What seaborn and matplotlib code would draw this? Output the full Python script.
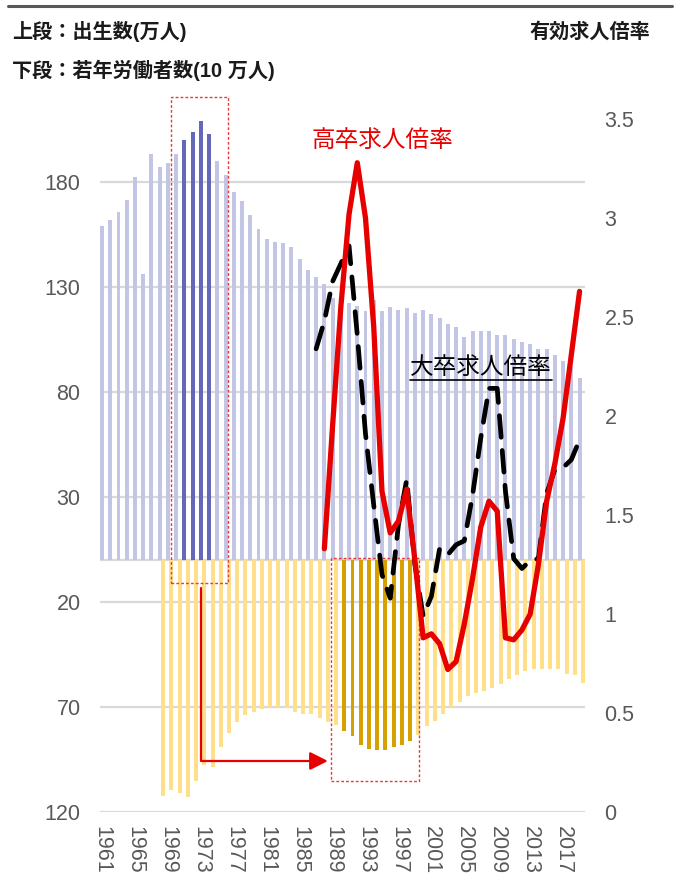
import matplotlib
matplotlib.use("Agg")
import matplotlib.pyplot as plt
from matplotlib.patches import Rectangle, FancyArrowPatch
from matplotlib.path import Path
from matplotlib.lines import Line2D
import pandas as pd
import seaborn as sns

# ---- data -------------------------------------------------------------
years = list(range(1961, 2020))
births = [158.9, 161.9, 166.0, 171.7, 182.4, 136.1, 193.6, 187.2, 189.0, 193.4,
          200.1, 203.9, 209.2, 203.0, 190.1, 183.3, 175.5, 170.9, 164.3, 157.7,
          152.9, 151.5, 150.9, 149.0, 143.2, 138.3, 134.7, 131.4, 124.7, 122.2,
          122.3, 120.9, 118.8, 123.8, 118.7, 120.7, 119.2, 120.3, 117.8, 119.1,
          117.1, 115.4, 112.4, 111.1, 106.3, 109.3, 109.0, 109.1, 107.0, 107.1,
          105.1, 103.7, 103.0, 100.4, 100.6, 97.7, 94.6, 91.8, 86.5]

worker_years = list(range(1968, 2020))
young_workers = [112.4, 109.5, 111.1, 113.0, 105.1, 97.6, 98.4, 89.2, 82.2, 77.0,
                 73.8, 72.2, 71.1, 70.0, 70.0, 70.5, 72.5, 73.5, 73.5, 75.4,
                 77.0, 78.6, 81.3, 83.8, 88.1, 89.8, 90.3, 90.3, 89.0, 88.0,
                 86.0, 83.3, 78.9, 76.5, 73.3, 69.8, 67.5, 64.8, 63.5, 62.4,
                 61.0, 59.2, 56.5, 54.6, 52.7, 51.7, 51.9, 51.9, 51.9, 54.3,
                 54.6, 58.4]

hs_years = list(range(1988, 2020))
hs_ratio = [1.33, 1.95, 2.55, 3.02, 3.28, 3.00, 2.45, 1.62, 1.41, 1.47,
            1.63, 1.27, 0.88, 0.90, 0.85, 0.72, 0.76, 0.95, 1.18, 1.44,
            1.57, 1.52, 0.88, 0.87, 0.92, 1.00, 1.25, 1.57, 1.76, 1.99,
            2.31, 2.63]

univ_years = list(range(1987, 2020))
univ_ratio = [2.34, 2.48, 2.68, 2.77, 2.86, 2.41, 1.91, 1.55, 1.20, 1.08,
              1.45, 1.68, 1.25, 0.99, 1.09, 1.33, 1.30, 1.35, 1.37, 1.60,
              1.89, 2.14, 2.14, 1.62, 1.28, 1.23, 1.27, 1.28, 1.61, 1.73,
              1.74, 1.78, 1.88]

left_ticks = [180, 130, 80, 30, -20, -70, -120]
right_ticks = [0, 0.5, 1, 1.5, 2, 2.5, 3, 3.5]
xtick_years = list(range(1961, 2018, 4))

boom_births = (1971, 1974)
boom_workers = (1990, 1998)

# ---- style ------------------------------------------------------------
sns.set_style("white")
plt.rcParams["font.family"] = ["Liberation Sans", "Noto Sans CJK JP", "DejaVu Sans"]

LAV, LAV_DARK = "#c3c5e5", "#6567b8"
YEL, YEL_DARK = "#ffdf8a", "#d6a100"
RED = "#e60000"
TICK_C = "#595959"
GRID_C = "#d9d9d9"

fig = plt.figure(figsize=(6.8, 8.93), dpi=100)
ax = fig.add_axes([100 / 680, 81 / 893, 485 / 680, 718 / 893])

Y_TOP = 222
ax.set_axisbelow(True)
ax.yaxis.grid(True, color=GRID_C, lw=1.6)
ax.axhline(0, color=GRID_C, lw=1.6, zorder=0)

# upper: births
df_up = pd.DataFrame({"year": years, "births": births})
df_up["peak"] = df_up["year"].between(*boom_births)
sns.barplot(data=df_up, x="year", y="births", hue="peak",
            palette={False: LAV, True: LAV_DARK}, native_scale=True,
            dodge=False, width=0.48, errorbar=None, legend=False,
            saturation=1, linewidth=0, ax=ax)

# lower: young workers, drawn downward and set half a slot to the right
df_low = pd.DataFrame({"year": worker_years, "workers": young_workers})
df_low["pos"] = df_low["year"] + 0.42
df_low["neg"] = -df_low["workers"]
df_low["peak"] = df_low["year"].between(*boom_workers)
sns.barplot(data=df_low, x="pos", y="neg", hue="peak",
            palette={False: YEL, True: YEL_DARK}, native_scale=True,
            dodge=False, width=0.48, errorbar=None, legend=False,
            saturation=1, linewidth=0, ax=ax)

ax.set_ylim(-120, Y_TOP)
ax.set_xlim(1960.75, 2019.66)
ax.set_yticks(left_ticks)
ax.set_yticklabels([str(abs(v)) for v in left_ticks])
ax.set_xticks(xtick_years)
ax.set_xticklabels([str(y) for y in xtick_years], rotation=-90)
ax.tick_params(axis="both", length=0, labelsize=15.5, labelcolor=TICK_C)
ax.tick_params(axis="y", pad=14)
ax.tick_params(axis="x", pad=10)
ax.set_xlabel("")
ax.set_ylabel("")
for s in ax.spines.values():
    s.set_visible(False)

# highlight boxes and arrow
box_kw = dict(fill=False, edgecolor="#e8383d", lw=1.0,
              linestyle=(0, (2, 1.5)), clip_on=False, zorder=5)
ax.add_patch(Rectangle((1969.41, -11), 1976.24 - 1969.41, 220.5 + 11, **box_kw))
ax.add_patch(Rectangle((1988.8, -105), 1999.45 - 1988.8, 105.8, **box_kw))

arrow_path = Path([(1973.0, -13.3), (1973.0, -95.7), (1988.44, -95.7)])
ax.add_patch(FancyArrowPatch(path=arrow_path,
                             arrowstyle="-|>,head_length=1.1,head_width=0.55",
                             mutation_scale=10, color=RED, lw=1.6,
                             clip_on=False, zorder=6))

# job-opening ratios on the secondary axis
ax2 = ax.twinx()
sns.lineplot(x=univ_years, y=univ_ratio, ax=ax2, color="black", lw=3.4)
ln_univ = ax2.lines[-1]
ln_univ.set_linestyle((0, (4.6, 2.8)))
ln_univ.set_dash_capstyle("round")
sns.lineplot(x=hs_years, y=hs_ratio, ax=ax2, color=RED, lw=3.8)
ln_hs = ax2.lines[-1]
ln_hs.set_solid_joinstyle("round")
ln_hs.set_solid_capstyle("round")

ax2.set_ylim(0, 3.5 * (Y_TOP + 120) / 330)
ax2.set_yticks(right_ticks)
ax2.set_yticklabels([f"{v:g}" for v in right_ticks])
ax2.tick_params(axis="y", length=0, labelsize=15.5, labelcolor=TICK_C, pad=14)
ax2.set_xlim(1960.75, 2019.66)
ax2.set_xlabel("")
ax2.set_ylabel("")
for s in ax2.spines.values():
    s.set_visible(False)

# headers
fig.add_artist(Line2D([8 / 680, 672 / 680], [1 - 6 / 893, 1 - 6 / 893],
                      color="#595959", lw=2.2))
head_kw = dict(fontsize=14.5, color="#1a1a1a", fontweight="bold", va="center")
fig.text(12 / 680, 1 - 32 / 893, "上段：出生数(万人)", ha="left", **head_kw)
fig.text(12 / 680, 1 - 70 / 893, "下段：若年労働者数(10 万人)", ha="left", **head_kw)
fig.text(650 / 680, 1 - 32 / 893, "有効求人倍率", ha="right", **head_kw)

# series labels
fig.text(382 / 680, 1 - 141 / 893, "高卒求人倍率", color=RED, fontsize=17,
         ha="center", va="center")
t_univ = fig.text(481 / 680, 1 - 368 / 893, "大卒求人倍率", color="black",
                  fontsize=17, ha="center", va="center")
fig.canvas.draw()
bb = t_univ.get_window_extent().transformed(fig.transFigure.inverted())
y_ul = 1 - 379.5 / 893
fig.add_artist(Line2D([bb.x0, bb.x1], [y_ul, y_ul], color="black", lw=1.2))

fig.savefig("out.png", dpi=100)
